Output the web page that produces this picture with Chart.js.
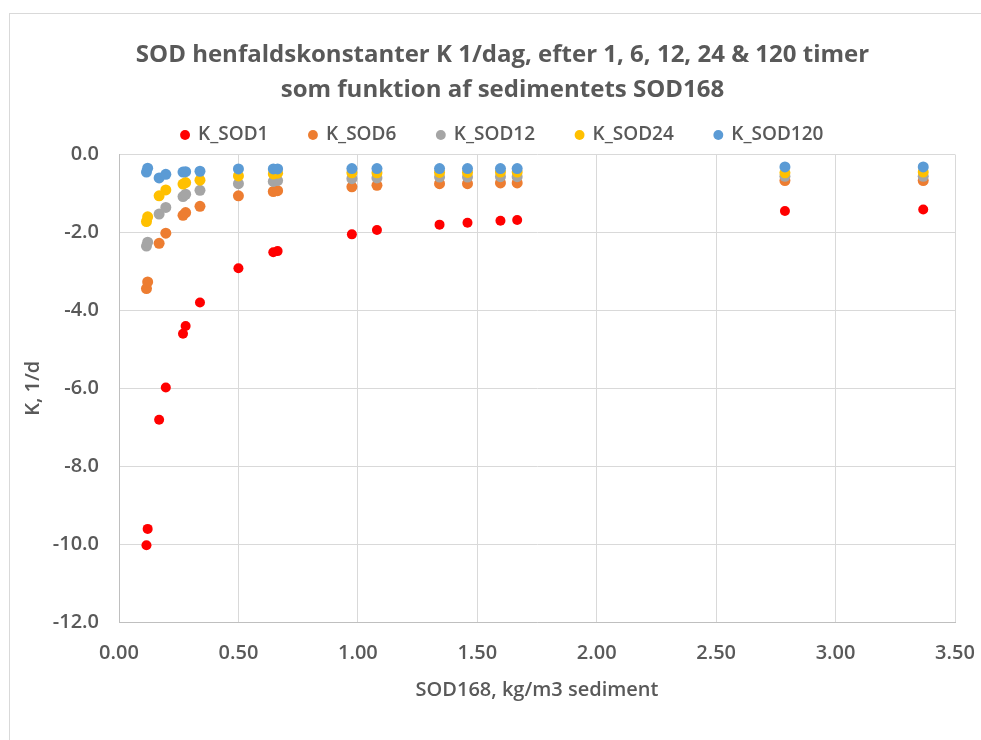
<!DOCTYPE html>
<html><head><meta charset="utf-8">
<script src="https://cdn.jsdelivr.net/npm/chart.js@4.4.0/dist/chart.umd.min.js"></script>
<style>
html,body{margin:0;padding:0;background:#fff;}
#wrap{position:relative;width:981px;height:740px;overflow:hidden;}
#frame{position:absolute;left:9px;top:13px;width:1000px;height:760px;border:1px solid #d9d9d9;box-sizing:border-box;}
canvas{position:absolute;left:0;top:0;}
</style></head>
<body><div id="wrap"><div id="frame"></div><canvas id="c" width="981" height="740"></canvas></div>
<script>
// Sediment SOD168 (kg/m3) for each sample
const sod168 = [0.115, 0.12, 0.168, 0.196, 0.268, 0.279, 0.339, 0.50, 0.646, 0.664, 0.975, 1.08, 1.342, 1.459, 1.597, 1.667, 2.788, 3.367];
// Decay constants K (1/d) after 1, 6, 12, 24 and 120 hours
const kSod1   = [-10.03, -9.61, -6.81, -5.98, -4.60, -4.40, -3.80, -2.92, -2.51, -2.48, -2.05, -1.94, -1.80, -1.75, -1.70, -1.68, -1.45, -1.41];
const kSod6   = [-3.44, -3.27, -2.28, -2.02, -1.56, -1.49, -1.33, -1.06, -0.95, -0.93, -0.83, -0.79, -0.75, -0.75, -0.73, -0.73, -0.67, -0.67];
const kSod12  = [-2.35, -2.25, -1.53, -1.36, -1.08, -1.02, -0.92, -0.75, -0.69, -0.67, -0.62, -0.60, -0.58, -0.58, -0.57, -0.57, -0.56, -0.56];
const kSod24  = [-1.72, -1.60, -1.06, -0.91, -0.76, -0.72, -0.66, -0.55, -0.50, -0.48, -0.47, -0.47, -0.46, -0.46, -0.45, -0.45, -0.47, -0.45];
const kSod120 = [-0.45, -0.35, -0.60, -0.51, -0.45, -0.44, -0.43, -0.37, -0.37, -0.37, -0.36, -0.36, -0.36, -0.36, -0.36, -0.36, -0.32, -0.32];

const seriesNames = ['K_SOD1', 'K_SOD6', 'K_SOD12', 'K_SOD24', 'K_SOD120'];
const seriesValues = [kSod1, kSod6, kSod12, kSod24, kSod120];
const seriesColors = ['#FF0000', '#ED7D31', '#A5A5A5', '#FFC000', '#5B9BD5'];

const xTicks = [0, 0.5, 1, 1.5, 2, 2.5, 3, 3.5];
const yTicks = [-12, -10, -8, -6, -4, -2, 0];

const FONT = "'Open Sans', 'Noto Sans', sans-serif";
const TEXT = '#595959';

const datasets = seriesNames.map((name, i) => ({
  label: name,
  data: sod168.map((x, j) => ({ x: x, y: seriesValues[i][j] })),
  backgroundColor: seriesColors[i],
  borderColor: seriesColors[i],
  pointRadius: i === 0 ? 5 : 5.5,
  pointBorderWidth: 0,
  pointHoverRadius: 6,
  // later series are painted on top
  order: seriesNames.length - i
}));

// The chart frame is wider than the visible window, so the title and legend
// sit a little right of the canvas centre.
const centreShift = {
  id: 'centreShift',
  afterLayout(chart) {
    const d = 20;
    [chart.titleBlock, chart.legend].forEach(b => {
      if (b) { b.left += d; b.right += d; }
    });
  }
};

new Chart(document.getElementById('c'), {
  type: 'scatter',
  data: { datasets },
  plugins: [centreShift],
  options: {
    responsive: false,
    animation: false,
    devicePixelRatio: 1,
    layout: { padding: { left: 10, right: 26, top: 0, bottom: 38 } },
    plugins: {
      tooltip: { enabled: false },
      title: {
        display: true,
        text: ['SOD henfaldskonstanter K 1/dag, efter 1, 6, 12, 24 & 120 timer', 'som funktion af sedimentets SOD168'],
        color: TEXT,
        font: { family: FONT, size: 24, weight: 'bold', lineHeight: '35px' },
        padding: { top: 37.5, bottom: -23 }
      },
      legend: {
        position: 'top',
        labels: {
          sort: (a, b) => a.datasetIndex - b.datasetIndex,
          usePointStyle: true,
          pointStyle: 'circle',
          boxWidth: 7,
          boxHeight: 7,
          padding: 41,
          color: TEXT,
          font: { family: FONT, size: 19, weight: 600 }
        }
      }
    },
    scales: {
      x: {
        type: 'linear',
        min: 0, max: 3.5,
        afterBuildTicks: s => { s.ticks = xTicks.map(v => ({ value: v })); },
        afterFit: s => { s.height = 80; s.paddingRight = 0; },
        grid: { color: '#d9d9d9', lineWidth: 1, drawTicks: false },
        border: { color: '#bfbfbf', width: 1 },
        ticks: {
          color: TEXT, padding: 19,
          font: { family: FONT, size: 20, weight: 600 },
          callback: v => Number(v).toFixed(2)
        },
        title: {
          display: true, text: 'SOD168, kg/m3 sediment', color: TEXT,
          font: { family: FONT, size: 20, weight: 600 }, padding: { top: 8, bottom: 0 }
        }
      },
      y: {
        type: 'linear',
        min: -12, max: 0,
        afterBuildTicks: s => { s.ticks = yTicks.map(v => ({ value: v })); },
        afterFit: s => { s.width = 109; },
        grid: { color: '#d9d9d9', lineWidth: 1, drawTicks: false },
        border: { color: '#bfbfbf', width: 1 },
        ticks: {
          color: TEXT, padding: 20,
          font: { family: FONT, size: 20, weight: 600 },
          callback: v => Number(v).toFixed(1)
        },
        title: {
          display: true, text: 'K, 1/d', color: TEXT,
          font: { family: FONT, size: 20, weight: 600 }, padding: { top: 11, bottom: 0 }
        }
      }
    }
  }
});
</script>
</body></html>
